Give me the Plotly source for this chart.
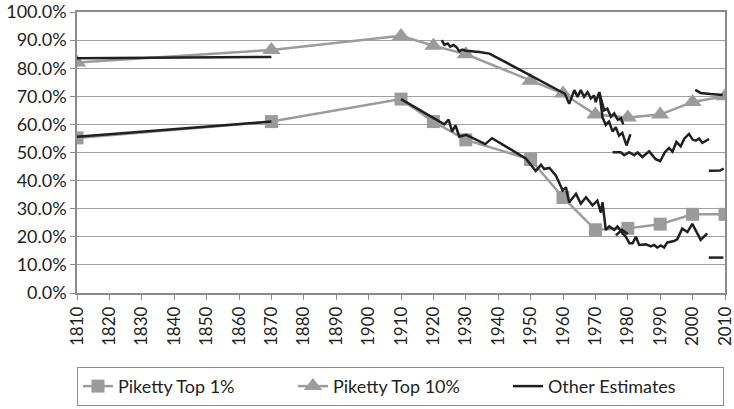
import plotly.graph_objects as go

# Piketty series (share of income, %)
piketty_years = [1810, 1870, 1910, 1920, 1930, 1950, 1960, 1970, 1980, 1990, 2000, 2010]
piketty_top1 = [55.2, 61.0, 69.0, 61.0, 54.5, 47.5, 34.0, 22.5, 23.0, 24.5, 28.0, 28.0]
piketty_top10 = [82.0, 86.5, 91.5, 88.0, 85.0, 75.5, 71.0, 63.5, 62.5, 63.5, 68.0, 70.0]

# Other estimates, several separate pieces
early_top_years = [1810, 1870]
early_top_vals = [83.5, 84.0]
early_bot_years = [1810, 1870]
early_bot_vals = [55.6, 61.0]

top10_years = [1922.6, 1923.4, 1924.4, 1925.2, 1926.2, 1927.2, 1928.0, 1928.9, 1930.0,
               1934.2, 1937.3, 1960.0, 1960.6, 1961.9, 1963.5, 1964.5, 1965.5, 1966.5,
               1967.6, 1968.6, 1969.6, 1970.1, 1971.2, 1972.2, 1973.2, 1974.2, 1975.3,
               1976.3, 1977.3, 1978.3, 1979.6, 1980.8]
top10_vals = [90.0, 88.3, 88.8, 87.7, 88.3, 87.4, 86.0, 86.6, 86.2,
              85.8, 85.2, 71.0, 70.9, 67.3, 72.2, 69.8, 72.2, 69.8,
              71.5, 69.2, 70.3, 67.9, 71.5, 62.5, 59.8, 61.0, 57.5,
              59.0, 56.0, 57.0, 52.5, 56.5]

top10_alt_years = [1971.2, 1972.7, 1973.7, 1974.8, 1975.8, 1976.9, 1977.9, 1978.6]
top10_alt_vals = [71.5, 65.0, 65.6, 62.7, 63.9, 61.6, 62.2, 60.0]

top10_late_years = [1975.3, 1977.8, 1978.9, 1980.4, 1982.0, 1983.0, 1984.5, 1986.6, 1988.6,
                    1990.0, 1991.4, 1992.7, 1993.8, 1995.0, 1996.3, 1997.5, 1998.9, 2000.0,
                    2001.0, 2002.0, 2003.0, 2005.1]
top10_late_vals = [50.1, 50.1, 49.0, 50.1, 49.0, 50.0, 48.4, 50.4, 47.6,
                   46.9, 50.0, 51.6, 50.3, 53.8, 52.2, 55.0, 56.6, 54.6,
                   54.2, 55.0, 53.4, 54.8]

recent_high_years = [2000.8, 2002.5, 2005.5, 2009.3]
recent_high_vals = [72.3, 71.2, 70.8, 70.5]
recent_mid_years = [2005.0, 2008.5, 2009.6]
recent_mid_vals = [43.5, 43.6, 44.3]
recent_low_years = [2005.0, 2009.5]
recent_low_vals = [12.6, 12.6]

top1_years = [1910.0, 1923.4, 1924.7, 1925.8, 1926.8, 1928.0, 1930.1, 1932.1, 1936.0, 1938.1,
              1948.5, 1951.6, 1953.2, 1954.2, 1955.8, 1957.8, 1959.9, 1960.9, 1961.9, 1964.0,
              1965.5, 1967.1, 1969.1, 1970.6, 1971.7, 1972.2, 1973.2, 1974.3, 1975.8, 1976.8,
              1977.9, 1979.4, 1980.5, 1981.5, 1982.5, 1983.5, 1985.6, 1987.1, 1988.1, 1989.1,
              1990.2, 1991.2, 1992.2, 1994.3, 1995.3, 1996.8, 1998.4, 1999.9, 2001.0, 2002.5,
              2004.5]
top1_vals = [69.0, 60.0, 61.7, 57.4, 59.7, 55.6, 56.3, 55.1, 53.0, 55.1,
             47.9, 43.4, 45.6, 44.1, 44.5, 41.8, 36.5, 37.6, 32.2, 35.3,
             31.8, 34.1, 31.2, 32.9, 28.6, 32.3, 22.5, 23.7, 22.5, 23.7,
             21.9, 20.0, 17.7, 17.7, 20.0, 17.1, 17.3, 16.6, 17.1, 16.2,
             16.9, 16.2, 18.0, 18.5, 19.2, 22.9, 21.7, 24.6, 22.3, 18.9,
             21.2]

top1_alt_years = [1976.3, 1978.2, 1980.0]
top1_alt_vals = [20.5, 22.5, 21.0]

other_pieces = [
    (early_top_years, early_top_vals),
    (early_bot_years, early_bot_vals),
    (top10_years, top10_vals),
    (top10_alt_years, top10_alt_vals),
    (top10_late_years, top10_late_vals),
    (recent_high_years, recent_high_vals),
    (recent_mid_years, recent_mid_vals),
    (recent_low_years, recent_low_vals),
    (top1_years, top1_vals),
    (top1_alt_years, top1_alt_vals),
]

GRAY = '#9b9b9b'
BLACK = '#231f20'
FONT = 'Lato'

fig = go.Figure()

fig.add_trace(go.Scatter(
    x=piketty_years, y=[v / 100 for v in piketty_top1],
    mode='lines+markers', name='Piketty Top 1%',
    line=dict(color=GRAY, width=2.5),
    marker=dict(symbol='square', size=13, color=GRAY),
))
fig.add_trace(go.Scatter(
    x=piketty_years, y=[v / 100 for v in piketty_top10],
    mode='lines+markers', name='Piketty Top 10%',
    line=dict(color=GRAY, width=2.5),
    marker=dict(symbol='triangle-up', size=16, color=GRAY),
))

ox, oy = [], []
for yrs, vals in other_pieces:
    ox += list(yrs) + [None]
    oy += [v / 100 for v in vals] + [None]

fig.add_trace(go.Scatter(
    x=ox, y=oy, mode='lines', name='Other Estimates',
    line=dict(color=BLACK, width=2.5),
    connectgaps=False,
))

fig.update_layout(
    width=734, height=409,
    margin=dict(l=77, r=9, t=12, b=116, autoexpand=False),
    plot_bgcolor='white', paper_bgcolor='white',
    font=dict(family=FONT, size=18, color=BLACK),
    showlegend=True,
    legend=dict(
        orientation='h', x=0, xanchor='left', y=-0.263, yanchor='top',
        bordercolor='#8c8c8c', borderwidth=1,
        entrywidth=170, entrywidthmode='pixels',
        font=dict(family=FONT, size=18, color=BLACK),
    ),
)

fig.update_xaxes(
    range=[1810, 2010], dtick=10, tick0=1810, automargin=False,
    tickangle=-90, ticks='outside', ticklen=5, tickcolor='#8c8c8c',
    ticklabeloverflow='allow',
    showline=True, linecolor='#8c8c8c', linewidth=1.5, mirror=True,
    showgrid=False, zeroline=False,
    tickfont=dict(family=FONT, size=17, color=BLACK),
)
fig.update_yaxes(
    range=[0, 1.0], dtick=0.1, tickformat='.1%', automargin=False,
    ticks='outside', ticklen=5, tickcolor='#8c8c8c',
    ticklabeloverflow='allow',
    showline=True, linecolor='#8c8c8c', linewidth=1.5, mirror=True,
    showgrid=True, gridcolor='#a0a0a0', gridwidth=1, zeroline=False,
    tickfont=dict(family=FONT, size=18, color=BLACK),
)

fig.write_html("out.html", config={'displayModeBar': False},
               post_script="document.body.style.margin='0';")
